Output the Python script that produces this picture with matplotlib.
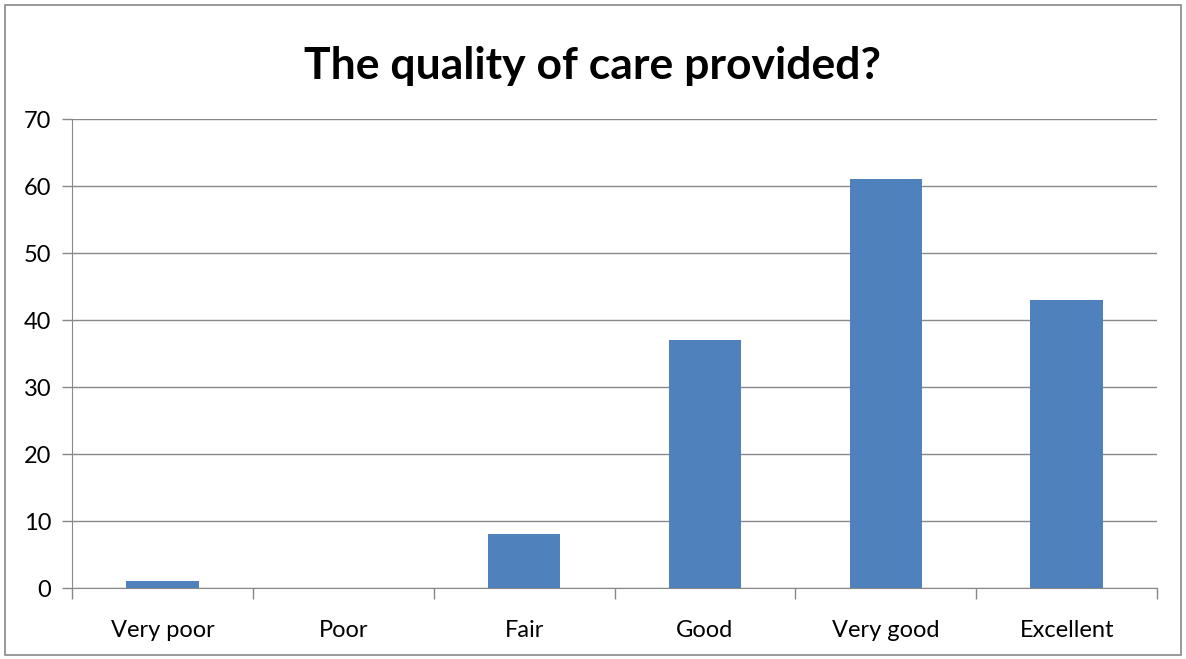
import numpy as np
import matplotlib.pyplot as plt
from matplotlib.patches import Rectangle

categories = ['Very poor', 'Poor', 'Fair', 'Good', 'Very good', 'Excellent']
values = [1, 0, 8, 37, 61, 43]
y_ticks = [0, 10, 20, 30, 40, 50, 60, 70]

plt.rcParams['font.family'] = ['Lato', 'DejaVu Sans']

fig = plt.figure(figsize=(11.86, 6.59), dpi=100)
ax = fig.add_axes([0.0607, 0.1077, 0.9149, 0.7117])

x = np.arange(len(categories))
ax.bar(x, values, width=0.4, color='#4F81BD', zorder=3)

ax.set_xlim(-0.5, len(categories) - 0.5)
ax.set_ylim(0, 70)
ax.set_yticks(y_ticks)
ax.set_yticklabels([str(v) for v in y_ticks], fontsize=17)
ax.yaxis.grid(True, color='#888888', linewidth=1)
ax.set_axisbelow(True)

# category labels centred, ticks on boundaries
ax.set_xticks(x)
ax.set_xticklabels(categories, fontsize=17)
ax.tick_params(axis='x', length=0, pad=23)
ax.set_xticks(np.arange(-0.5, len(categories)), minor=True)
ax.tick_params(axis='x', which='minor', length=8, color='#888888', width=1)
ax.tick_params(axis='y', length=7, color='#888888', width=1, pad=8)

for s in ['top', 'right']:
    ax.spines[s].set_visible(False)
for s in ['left', 'bottom']:
    ax.spines[s].set_color('#888888')

fig.text(0.5, 0.90, 'The quality of care provided?', ha='center', va='center',
         fontsize=32, fontweight='bold')

fig.patches.append(Rectangle((0.004, 0.006), 0.992, 0.986, transform=fig.transFigure,
                             fill=False, edgecolor='#888888', linewidth=1.2))

fig.savefig('out.png', dpi=100)
